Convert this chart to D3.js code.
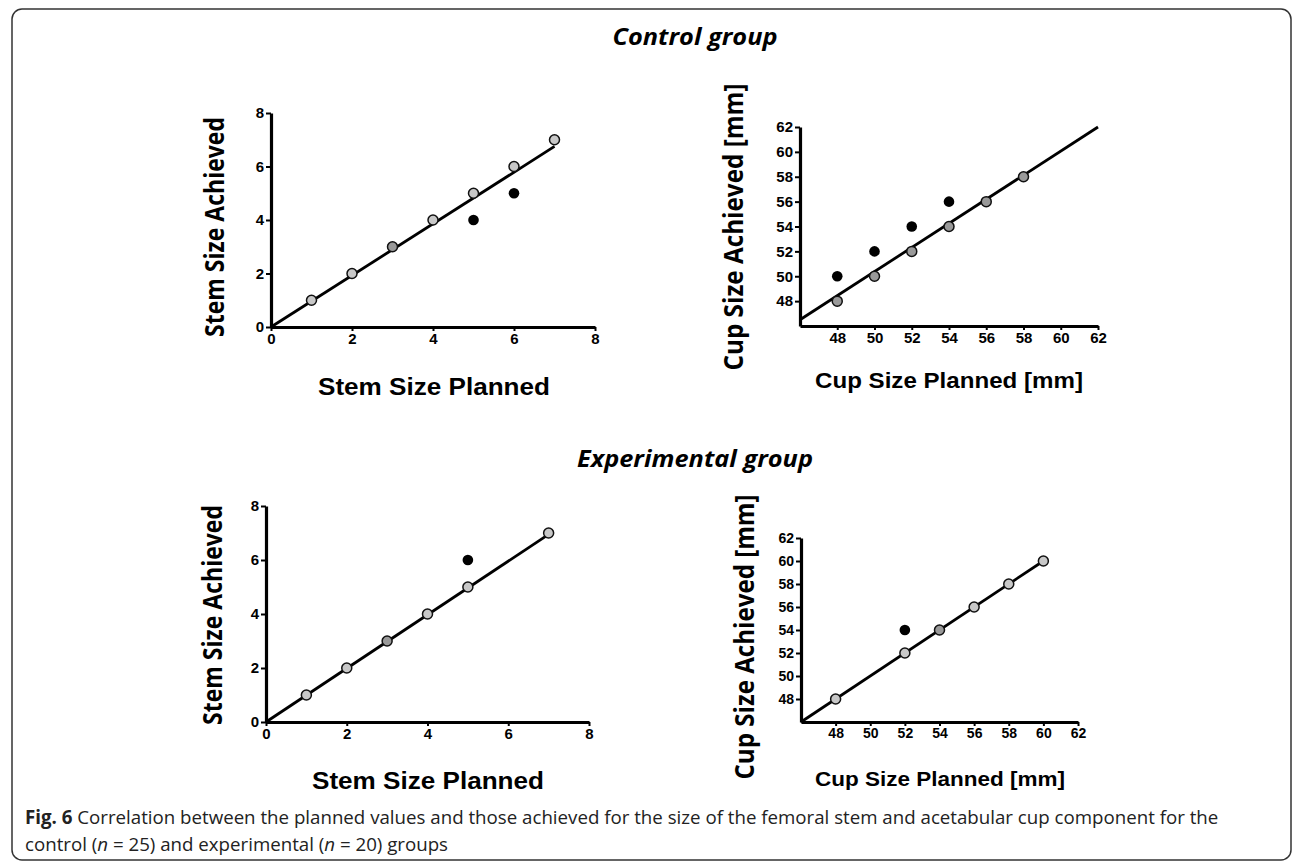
<!DOCTYPE html>
<html>
<head>
<meta charset="utf-8">
<script src="https://cdn.jsdelivr.net/npm/d3@7"></script>
<style>
  body { margin: 0; background: #fff; }
  svg { display: block; }
</style>
</head>
<body>
<script>
// tick values
const stemTicks = [0, 2, 4, 6, 8];
const cupTicks = [48, 50, 52, 54, 56, 58, 60, 62];

// control group, stem
const ctrlStemX = [1, 2, 3, 4, 5, 6, 7];
const ctrlStemY = [1, 2, 3, 4, 5, 6, 7];
const ctrlStemShade = ["#c8c8c8", "#c8c8c8", "#999", "#c8c8c8", "#c8c8c8", "#c8c8c8", "#c8c8c8"];
const ctrlStemOffX = [5, 6];
const ctrlStemOffY = [4, 5];
const ctrlStemFit = [[0, 0], [7, 6.75]];

// control group, cup
const ctrlCupX = [48, 50, 52, 54, 56, 58];
const ctrlCupY = [48, 50, 52, 54, 56, 58];
const ctrlCupShade = ["#9a9a9a", "#9a9a9a", "#9a9a9a", "#9a9a9a", "#9a9a9a", "#9a9a9a"];
const ctrlCupOffX = [48, 50, 52, 54];
const ctrlCupOffY = [50, 52, 54, 56];
const ctrlCupFit = [[46, 46.5], [62, 62]];

// experimental group, stem
const expStemX = [1, 2, 3, 4, 5, 7];
const expStemY = [1, 2, 3, 4, 5, 7];
const expStemShade = ["#c8c8c8", "#c8c8c8", "#999", "#c8c8c8", "#c8c8c8", "#c8c8c8"];
const expStemOffX = [5];
const expStemOffY = [6];
const expStemFit = [[0, 0], [7, 6.95]];

// experimental group, cup
const expCupX = [48, 52, 54, 56, 58, 60];
const expCupY = [48, 52, 54, 56, 58, 60];
const expCupShade = ["#c8c8c8", "#c8c8c8", "#999", "#c8c8c8", "#c8c8c8", "#c8c8c8"];
const expCupOffX = [52];
const expCupOffY = [54];
const expCupFit = [[46, 46], [60, 60]];

const W = 1293, H = 862;
const svg = d3.select("body").append("svg").attr("width", W).attr("height", H);

// frame
svg.append("rect")
  .attr("x", 12).attr("y", 9)
  .attr("width", 1279).attr("height", 851)
  .attr("rx", 10)
  .attr("fill", "none").attr("stroke", "#333").attr("stroke-width", 1.5);

const titleFont = "'Open Sans', 'Noto Sans', sans-serif";
const tickFont = "'Liberation Sans', Arial, sans-serif";

function groupTitle(txt, y, len) {
  svg.append("text")
    .attr("x", 695).attr("y", y)
    .attr("text-anchor", "middle")
    .attr("font-family", titleFont)
    .attr("font-weight", "bold").attr("font-style", "italic")
    .attr("font-size", 23)
    .attr("textLength", len).attr("lengthAdjust", "spacingAndGlyphs")
    .text(txt);
}
groupTitle("Control group", 45, 165);
groupTitle("Experimental group", 467, 236);

function panel(o) {
  const x = d3.scaleLinear().domain(o.xDomain).range(o.xRange);
  const y = d3.scaleLinear().domain(o.yDomain).range(o.yRange);
  const g = svg.append("g");

  // fit line
  g.append("path")
    .datum(o.fit)
    .attr("d", d3.line().x(d => x(d[0])).y(d => y(d[1])))
    .attr("stroke", "#000").attr("stroke-width", 2.8).attr("fill", "none");

  const xAxis = g.append("g")
    .attr("transform", `translate(0,${o.yRange[0]})`)
    .call(d3.axisBottom(x).tickValues(o.ticks).tickSize(4).tickSizeOuter(0).tickPadding(2));
  const yAxis = g.append("g")
    .attr("transform", `translate(${o.xRange[0]},0)`)
    .call(d3.axisLeft(y).tickValues(o.ticks).tickSize(5).tickSizeOuter(0).tickPadding(2));

  [xAxis, yAxis].forEach(a => {
    a.select(".domain").attr("stroke-width", 3.2).attr("stroke", "#000");
    a.selectAll(".tick line").attr("stroke-width", 2).attr("stroke", "#000");
    a.selectAll(".tick text")
      .attr("font-family", tickFont).attr("font-weight", "bold")
      .attr("font-size", o.tickSize).attr("fill", "#000");
  });

  // points on the line of identity
  g.selectAll("circle.match")
    .data(o.px.map((v, i) => ({ x: v, y: o.py[i], c: o.shade[i] })))
    .join("circle")
    .attr("class", "match")
    .attr("cx", d => x(d.x)).attr("cy", d => y(d.y))
    .attr("r", 5)
    .attr("fill", d => d.c).attr("stroke", "#111").attr("stroke-width", 1.5);

  // points that differ
  g.selectAll("circle.off")
    .data(o.ox.map((v, i) => ({ x: v, y: o.oy[i] })))
    .join("circle")
    .attr("class", "off")
    .attr("cx", d => x(d.x)).attr("cy", d => y(d.y))
    .attr("r", 5.3)
    .attr("fill", "#000");

  // axis titles
  svg.append("text")
    .attr("transform", `translate(${o.yLab[0]},${o.yLab[1]}) rotate(-90)`)
    .attr("text-anchor", "middle")
    .attr("font-family", titleFont).attr("font-weight", "bold")
    .attr("font-size", o.yLab[3])
    .attr("textLength", o.yLab[2]).attr("lengthAdjust", "spacingAndGlyphs")
    .text(o.yTitle);

  svg.append("text")
    .attr("x", o.xLab[0]).attr("y", o.xLab[1])
    .attr("text-anchor", "middle")
    .attr("font-family", tickFont).attr("font-weight", "bold")
    .attr("font-size", o.xLab[3])
    .attr("textLength", o.xLab[2]).attr("lengthAdjust", "spacingAndGlyphs")
    .text(o.xTitle);
}

panel({
  xDomain: [0, 8], yDomain: [0, 8], xRange: [271, 595], yRange: [327, 113],
  ticks: stemTicks, tickSize: 15,
  px: ctrlStemX, py: ctrlStemY, shade: ctrlStemShade,
  ox: ctrlStemOffX, oy: ctrlStemOffY, fit: ctrlStemFit,
  yTitle: "Stem Size Achieved", yLab: [224, 227, 220, 26],
  xTitle: "Stem Size Planned", xLab: [434, 395, 232, 24]
});

panel({
  xDomain: [46, 62], yDomain: [46, 62], xRange: [800, 1098], yRange: [326, 127],
  ticks: cupTicks, tickSize: 15,
  px: ctrlCupX, py: ctrlCupY, shade: ctrlCupShade,
  ox: ctrlCupOffX, oy: ctrlCupOffY, fit: ctrlCupFit,
  yTitle: "Cup Size Achieved [mm]", yLab: [743, 227, 287, 26],
  xTitle: "Cup Size Planned [mm]", xLab: [949, 388, 268, 22]
});

panel({
  xDomain: [0, 8], yDomain: [0, 8], xRange: [266, 589], yRange: [722, 506],
  ticks: stemTicks, tickSize: 15,
  px: expStemX, py: expStemY, shade: expStemShade,
  ox: expStemOffX, oy: expStemOffY, fit: expStemFit,
  yTitle: "Stem Size Achieved", yLab: [222, 615, 220, 26],
  xTitle: "Stem Size Planned", xLab: [428, 789, 232, 24]
});

panel({
  xDomain: [46, 62], yDomain: [46, 62], xRange: [801, 1078], yRange: [722, 538],
  ticks: cupTicks, tickSize: 14,
  px: expCupX, py: expCupY, shade: expCupShade,
  ox: expCupOffX, oy: expCupOffY, fit: expCupFit,
  yTitle: "Cup Size Achieved [mm]", yLab: [754, 637, 285, 26],
  xTitle: "Cup Size Planned [mm]", xLab: [940, 786, 250, 21]
});

// caption
const cap = svg.append("g")
  .attr("font-family", titleFont).attr("font-size", 18.7).attr("fill", "#222");
const l1 = cap.append("text").attr("x", 25).attr("y", 824);
l1.append("tspan").attr("font-weight", "bold").text("Fig. 6");
l1.append("tspan").text(" Correlation between the planned values and those achieved for the size of the femoral stem and acetabular cup component for the");
const l2 = cap.append("text").attr("x", 25).attr("y", 851);
l2.append("tspan").text("control (");
l2.append("tspan").attr("font-style", "italic").text("n");
l2.append("tspan").text(" = 25) and experimental (");
l2.append("tspan").attr("font-style", "italic").text("n");
l2.append("tspan").text(" = 20) groups");
</script>
</body>
</html>
